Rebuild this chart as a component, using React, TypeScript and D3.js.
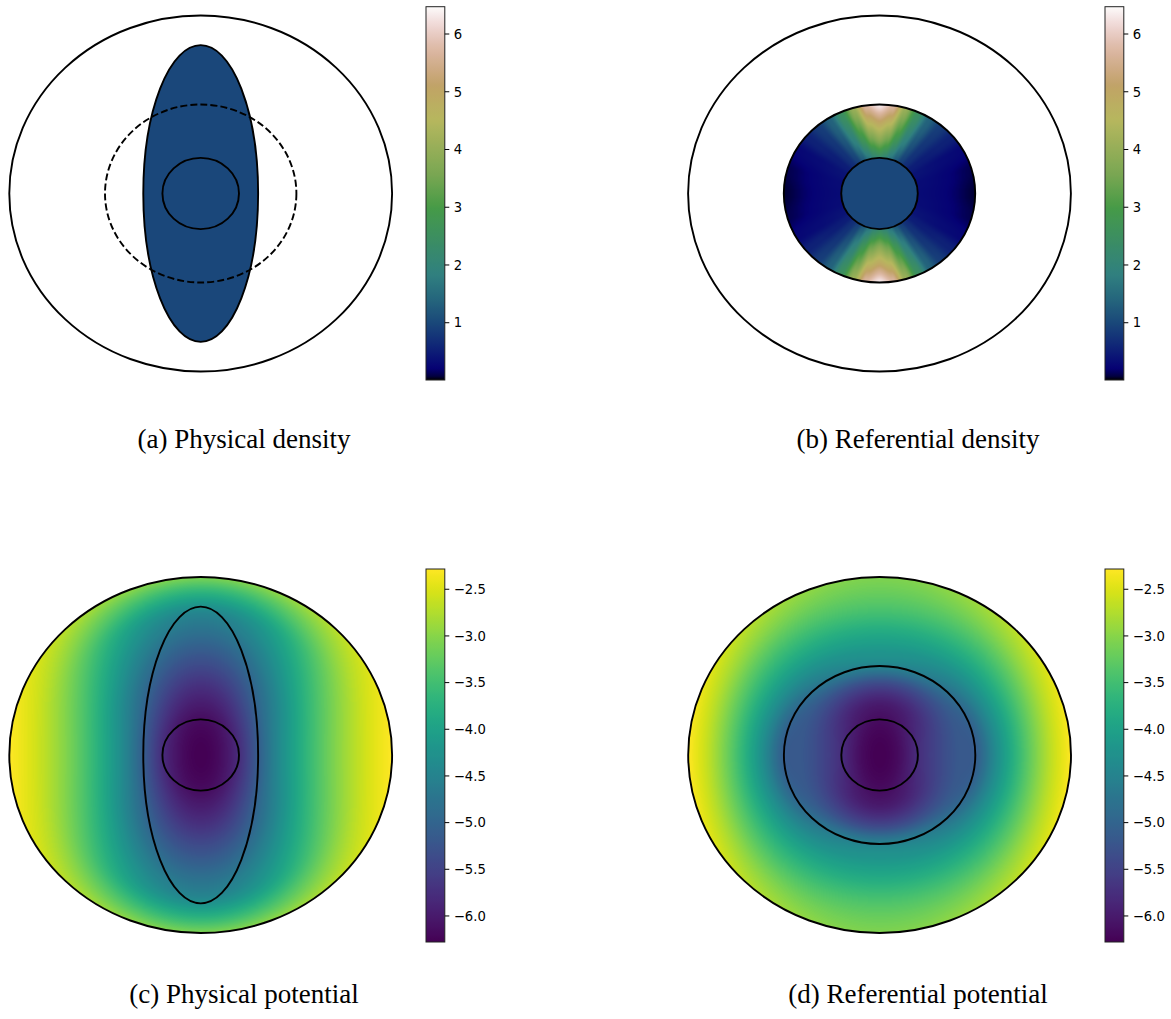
import React, { useMemo } from 'react';
import * as d3 from 'd3';

const WIDTH = 1171;
const HEIGHT = 1019;

// ---------------- data ----------------
const domainRadius = 1.0;          // outer boundary (circle, radius 1)
const referenceRadius = 0.5;       // reference body radius
const coreRadius = 0.2;            // rigid core radius
const physicalEllipseAxes = [0.3, 0.8333]; // deformed body semi-axes (x, y)
const bodyDensity = 1.0;

const densityRange = [0.008, 6.473];
const densityTicks = [1, 2, 3, 4, 5, 6];
const potentialRange = [-6.279, -2.283];
const potentialTicks = [-2.5, -3.0, -3.5, -4.0, -4.5, -5.0, -5.5, -6.0];

// referential density in the annulus coreRadius..referenceRadius
const refDensityRadii = [0.2, 0.25, 0.3, 0.35, 0.4, 0.45, 0.5];
const refDensityAngles = [0, 8, 16, 24, 32, 40, 50, 60, 75, 90]; // degrees measured from the vertical axis
const refDensityGrid = [
  [2.2, 3.0, 3.8, 4.4, 5.0, 5.7, 6.45],
  [2.0, 2.7, 3.4, 4.0, 4.6, 5.2, 5.8],
  [1.6, 2.1, 2.6, 3.0, 3.4, 3.8, 4.1],
  [1.2, 1.5, 1.8, 2.0, 2.2, 2.4, 2.5],
  [0.9, 1.0, 1.1, 1.2, 1.3, 1.35, 1.35],
  [0.7, 0.72, 0.75, 0.78, 0.82, 0.86, 0.88],
  [0.5, 0.5, 0.5, 0.52, 0.55, 0.55, 0.55],
  [0.4, 0.38, 0.35, 0.32, 0.3, 0.28, 0.25],
  [0.32, 0.3, 0.27, 0.23, 0.19, 0.14, 0.1],
  [0.3, 0.28, 0.25, 0.21, 0.16, 0.1, 0.04],
];

// potential radial profiles (radius 0..1 step 0.1) along x-axis, diagonal and y-axis
const potentialRadii = [0, 0.1, 0.2, 0.3, 0.4, 0.5, 0.6, 0.7, 0.8, 0.9, 1.0];
const physPotentialX = [-6.28, -6.15, -5.76, -5.11, -4.44, -3.91, -3.45, -3.05, -2.73, -2.47, -2.28];
const physPotentialDiag = [-6.28, -6.2, -5.96, -5.53, -5.05, -4.62, -4.2, -3.82, -3.45, -3.05, -2.7];
const physPotentialY = [-6.28, -6.25, -6.15, -5.95, -5.7, -5.4, -5.1, -4.78, -4.45, -3.8, -3.05];
const refPotentialX = [-6.28, -6.15, -5.76, -5.45, -5.2, -5.11, -4.4, -3.75, -3.15, -2.65, -2.28];
const refPotentialDiag = [-6.28, -6.2, -5.96, -5.7, -5.3, -4.8, -4.3, -3.83, -3.4, -3.0, -2.68];
const refPotentialY = [-6.28, -6.25, -6.15, -5.95, -5.4, -4.5, -4.15, -3.82, -3.48, -3.23, -3.05];

const captions = ['(a) Physical density', '(b) Referential density', '(c) Physical potential', '(d) Referential potential'];

// ---------------- colormaps ----------------
const gistEarth = {
  r: [[0, 0], [0.2824, 0.1882], [0.4588, 0.2714], [0.549, 0.4719], [0.698, 0.7176], [0.7882, 0.7553], [1, 0.9922]],
  g: [[0, 0], [0.0275, 0], [0.1098, 0.1893], [0.1647, 0.3035], [0.2078, 0.3841], [0.2824, 0.502], [0.5216, 0.6397],
    [0.698, 0.7171], [0.7882, 0.6392], [0.7922, 0.6413], [0.8, 0.6447], [0.8078, 0.6481], [0.8157, 0.6549],
    [0.8667, 0.6991], [0.8745, 0.7103], [0.8824, 0.7216], [0.8902, 0.7323], [0.898, 0.743], [0.9412, 0.8275],
    [0.9569, 0.8635], [0.9647, 0.8816], [0.9961, 0.9733], [1, 0.9843]],
  b: [[0, 0], [0.0039, 0.1684], [0.0078, 0.2212], [0.0275, 0.4329], [0.0314, 0.4549], [0.2824, 0.5004],
    [0.4667, 0.2748], [0.5451, 0.3205], [0.7843, 0.3961], [0.8941, 0.6651], [1, 0.9843]],
};
function seg(pts: number[][], t: number) {
  for (let i = 0; i < pts.length - 1; i++) {
    if (t <= pts[i + 1][0]) {
      const u = (t - pts[i][0]) / (pts[i + 1][0] - pts[i][0]);
      return pts[i][1] + u * (pts[i + 1][1] - pts[i][1]);
    }
  }
  return pts[pts.length - 1][1];
}
function gistEarthRGB(t: number): [number, number, number] {
  t = Math.max(0, Math.min(1, t));
  return [seg(gistEarth.r, t) * 255, seg(gistEarth.g, t) * 255, seg(gistEarth.b, t) * 255];
}
function viridisRGB(t: number): [number, number, number] {
  const c = d3.rgb(d3.interpolateViridis(Math.max(0, Math.min(1, t))));
  return [c.r, c.g, c.b];
}
const rgbStr = (c: number[]) => `rgb(${Math.round(c[0])},${Math.round(c[1])},${Math.round(c[2])})`;

// ---------------- field evaluation ----------------
function catmull(ys: number[], r: number) {
  const step = potentialRadii[1] - potentialRadii[0];
  const n = ys.length;
  const s = Math.max(0, Math.min(r / step, n - 1));
  const i = Math.min(Math.floor(s), n - 2);
  const t = s - i;
  const p0 = i === 0 ? ys[1] : ys[i - 1];
  const p1 = ys[i];
  const p2 = ys[i + 1];
  const p3 = i + 2 < n ? ys[i + 2] : 2 * ys[n - 1] - ys[n - 2];
  return 0.5 * (2 * p1 + (-p0 + p2) * t + (2 * p0 - 5 * p1 + 4 * p2 - p3) * t * t + (-p0 + 3 * p1 - 3 * p2 + p3) * t * t * t);
}
function potentialAt(px: number[], pd: number[], py: number[], X: number, Y: number) {
  const r = Math.min(1, Math.hypot(X, Y));
  const f0 = catmull(px, r), f45 = catmull(pd, r), f90 = catmull(py, r);
  const th = Math.atan2(Math.abs(Y), Math.abs(X));
  const c2 = Math.cos(2 * th);
  const a = f45, b = (f0 - f90) / 2, c = (f0 + f90) / 2 - f45;
  return a + b * c2 + c * c2 * c2;
}
function lin(xs: number[], x: number) {
  const n = xs.length;
  if (x <= xs[0]) return [0, 0];
  if (x >= xs[n - 1]) return [n - 2, 1];
  let i = 0;
  while (i < n - 2 && x > xs[i + 1]) i++;
  return [i, (x - xs[i]) / (xs[i + 1] - xs[i])];
}
function refDensityAt(X: number, Y: number) {
  const r = Math.hypot(X, Y);
  if (r < coreRadius) return bodyDensity;
  const ang = (Math.atan2(Math.abs(X), Math.abs(Y)) * 180) / Math.PI;
  const [ai, at0] = lin(refDensityAngles, ang);
  const [ri, rt] = lin(refDensityRadii, r);
  const at = at0 * at0 * (3 - 2 * at0);
  const g = refDensityGrid;
  const v0 = g[ai][ri] * (1 - rt) + g[ai][ri + 1] * rt;
  const v1 = g[ai + 1][ri] * (1 - rt) + g[ai + 1][ri + 1] * rt;
  return v0 * (1 - at) + v1 * at;
}

// ---------------- layout ----------------
const SX = 191.4;
const SY = 178;
const panels = [
  { id: 'a', cx: 200.7, cy: 193.5, cbX: 426, cbTop: 6.7, cbBottom: 380, capX: 244, capY: 447.5 },
  { id: 'b', cx: 879.5, cy: 193.5, cbX: 1105, cbTop: 6.7, cbBottom: 380, capX: 918, capY: 447.5 },
  { id: 'c', cx: 200.7, cy: 755, cbX: 426, cbTop: 569, cbBottom: 942, capX: 244, capY: 1002.5 },
  { id: 'd', cx: 879.6, cy: 755, cbX: 1105, cbTop: 569, cbBottom: 942, capX: 918, capY: 1002.5 },
];
const CB_W = 18.8;

function fieldImage(fn: (x: number, y: number) => number, norm: (v: number) => number,
  cmap: (t: number) => [number, number, number], clipR: number) {
  const w = Math.round(2 * SX), h = Math.round(2 * SY);
  const canvas = document.createElement('canvas');
  canvas.width = w; canvas.height = h;
  const ctx = canvas.getContext('2d')!;
  const img = ctx.createImageData(w, h);
  const lut: number[][] = [];
  for (let k = 0; k <= 1024; k++) lut.push(cmap(k / 1024));
  for (let j = 0; j < h; j++) {
    const Y = 1 - ((j + 0.5) * 2) / h;
    for (let i = 0; i < w; i++) {
      const X = -1 + ((i + 0.5) * 2) / w;
      if (Math.hypot(X, Y) > clipR + 0.015) continue;
      const t = Math.max(0, Math.min(1, norm(fn(X, Y))));
      const c = lut[Math.round(t * 1024)];
      const o = (j * w + i) * 4;
      img.data[o] = c[0]; img.data[o + 1] = c[1]; img.data[o + 2] = c[2]; img.data[o + 3] = 255;
    }
  }
  ctx.putImageData(img, 0, 0);
  return canvas.toDataURL();
}

function Colorbar({ p, domain, ticks, gradId, fmt }: any) {
  const y = d3.scaleLinear().domain(domain).range([p.cbBottom, p.cbTop]);
  const right = p.cbX + CB_W;
  return (
    <g>
      <rect x={p.cbX} y={p.cbTop} width={CB_W} height={p.cbBottom - p.cbTop} fill={`url(#${gradId})`} />
      <rect x={p.cbX} y={p.cbTop} width={CB_W} height={p.cbBottom - p.cbTop} fill="none" stroke="#222" strokeWidth={1} />
      {ticks.map((t: number) => (
        <g key={t} transform={`translate(${right},${y(t)})`}>
          <line x1={0} x2={4.5} stroke="#000" strokeWidth={1} />
          <text x={9} dy="0.36em" fontFamily="DejaVu Sans" fontSize={13.2} fill="#000">{fmt(t)}</text>
        </g>
      ))}
    </g>
  );
}

export default function App() {
  const dNorm = d3.scaleLinear().domain(densityRange).range([0, 1]);
  const pNorm = d3.scaleLinear().domain(potentialRange).range([0, 1]);

  const images = useMemo(() => ({
    b: fieldImage(refDensityAt, dNorm, gistEarthRGB, referenceRadius),
    c: fieldImage((x, y) => potentialAt(physPotentialX, physPotentialDiag, physPotentialY, x, y), pNorm, viridisRGB, domainRadius),
    d: fieldImage((x, y) => potentialAt(refPotentialX, refPotentialDiag, refPotentialY, x, y), pNorm, viridisRGB, domainRadius),
  }), []);

  const bodyColor = rgbStr(gistEarthRGB(dNorm(bodyDensity)));
  const gradStops = d3.range(0, 1.0001, 0.01);

  const scalesFor = (p: any) => ({
    x: d3.scaleLinear().domain([-1, 1]).range([p.cx - SX, p.cx + SX]),
    y: d3.scaleLinear().domain([-1, 1]).range([p.cy + SY, p.cy - SY]),
  });
  const ell = (p: any, ax: number, ay: number, props: any) => {
    const s = scalesFor(p);
    return <ellipse cx={s.x(0)} cy={s.y(0)} rx={s.x(ax) - s.x(0)} ry={s.y(0) - s.y(ay)} {...props} />;
  };
  const stroke = { fill: 'none', stroke: '#000', strokeWidth: 1.9 };
  const [pa, pb, pc, pd] = panels;
  const fmtD = (t: number) => d3.format('d')(t);
  const fmtP = (t: number) => d3.format('.1f')(t);

  return (
    <svg width={WIDTH} height={HEIGHT} style={{ position: 'absolute', left: 0, top: 0, background: '#fff' }}>
      <defs>
        <linearGradient id="gEarth" x1="0" y1="1" x2="0" y2="0">
          {gradStops.map((t) => <stop key={t} offset={t} stopColor={rgbStr(gistEarthRGB(t))} />)}
        </linearGradient>
        <linearGradient id="gViridis" x1="0" y1="1" x2="0" y2="0">
          {gradStops.map((t) => <stop key={t} offset={t} stopColor={d3.interpolateViridis(t)} />)}
        </linearGradient>
        {panels.map((p) => {
          const s = scalesFor(p);
          const R = p.id === 'b' ? referenceRadius : domainRadius;
          return (
            <clipPath id={`clip-${p.id}`} key={p.id}>
              <ellipse cx={s.x(0)} cy={s.y(0)} rx={s.x(R) - s.x(0)} ry={s.y(0) - s.y(R)} />
            </clipPath>
          );
        })}
      </defs>
      <rect width={WIDTH} height={HEIGHT} fill="#fff" />

      {/* (a) physical density */}
      <g>
        {ell(pa, physicalEllipseAxes[0], physicalEllipseAxes[1], { fill: bodyColor, stroke: '#000', strokeWidth: 1.9 })}
        {ell(pa, domainRadius, domainRadius, stroke)}
        {ell(pa, referenceRadius, referenceRadius, { ...stroke, strokeDasharray: '7,3.1' })}
        {ell(pa, coreRadius, coreRadius, stroke)}
        <Colorbar p={pa} domain={densityRange} ticks={densityTicks} gradId="gEarth" fmt={fmtD} />
      </g>

      {/* (b) referential density */}
      <g>
        <image href={images.b} x={pb.cx - SX} y={pb.cy - SY} width={2 * SX} height={2 * SY}
          preserveAspectRatio="none" clipPath="url(#clip-b)" />
        {ell(pb, coreRadius, coreRadius, { fill: bodyColor })}
        {ell(pb, domainRadius, domainRadius, stroke)}
        {ell(pb, referenceRadius, referenceRadius, stroke)}
        {ell(pb, coreRadius, coreRadius, stroke)}
        <Colorbar p={pb} domain={densityRange} ticks={densityTicks} gradId="gEarth" fmt={fmtD} />
      </g>

      {/* (c) physical potential */}
      <g>
        <image href={images.c} x={pc.cx - SX} y={pc.cy - SY} width={2 * SX} height={2 * SY}
          preserveAspectRatio="none" clipPath="url(#clip-c)" />
        {ell(pc, domainRadius, domainRadius, stroke)}
        {ell(pc, physicalEllipseAxes[0], physicalEllipseAxes[1], stroke)}
        {ell(pc, coreRadius, coreRadius, stroke)}
        <Colorbar p={pc} domain={potentialRange} ticks={potentialTicks} gradId="gViridis" fmt={fmtP} />
      </g>

      {/* (d) referential potential */}
      <g>
        <image href={images.d} x={pd.cx - SX} y={pd.cy - SY} width={2 * SX} height={2 * SY}
          preserveAspectRatio="none" clipPath="url(#clip-d)" />
        {ell(pd, domainRadius, domainRadius, stroke)}
        {ell(pd, referenceRadius, referenceRadius, stroke)}
        {ell(pd, coreRadius, coreRadius, stroke)}
        <Colorbar p={pd} domain={potentialRange} ticks={potentialTicks} gradId="gViridis" fmt={fmtP} />
      </g>

      {panels.map((p, i) => (
        <text key={p.id} x={p.capX} y={p.capY} textAnchor="middle" fontFamily="'Liberation Serif', 'Times New Roman', serif"
          fontSize={27} fill="#000">{captions[i]}</text>
      ))}
    </svg>
  );
}
